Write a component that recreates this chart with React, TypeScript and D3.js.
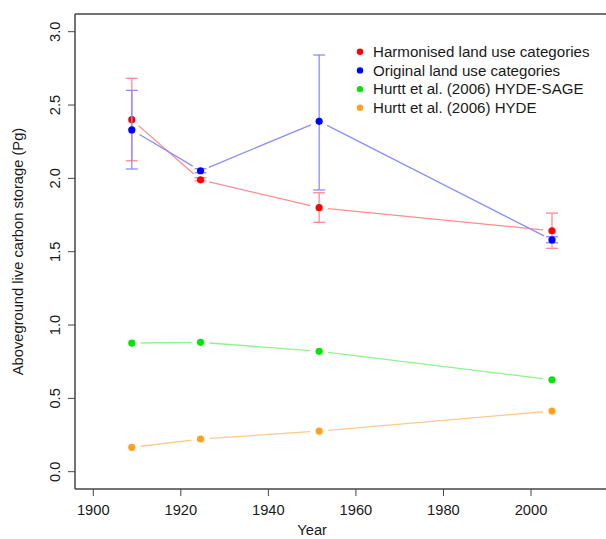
import React from "react";
import * as d3 from "d3";

// data
const years = [1908.8, 1924.5, 1951.6, 2004.8];
const harmonised = [2.4, 1.99, 1.8, 1.643];
const harmonisedLo = [2.12, 1.982, 1.7, 1.523];
const harmonisedHi = [2.682, 2.005, 1.902, 1.763];
const original = [2.33, 2.052, 2.389, 1.58];
const originalLo = [2.064, 2.039, 1.921, 1.561];
const originalHi = [2.6, 2.066, 2.841, 1.602];
const hydeSage = [0.877, 0.882, 0.821, 0.627];
const hyde = [0.166, 0.223, 0.277, 0.414];

const xTicks = [1900, 1920, 1940, 1960, 1980, 2000];
const yTicks = [0, 0.5, 1, 1.5, 2, 2.5, 3];

const legendLabels = [
  "Harmonised land use categories",
  "Original land use categories",
  "Hurtt et al. (2006) HYDE-SAGE",
  "Hurtt et al. (2006) HYDE",
];

const W = 606;
const H = 539;
const box = { left: 75, right: 606, top: 14, bottom: 489 };
const font = "'Liberation Sans', Arial, sans-serif";
const fs = 14.7;

const x = d3.scaleLinear().domain([1900, 2000]).range([93.3, 531]);
const y = d3.scaleLinear().domain([0, 3]).range([471.7, 31.7]);

type Series = {
  values: number[];
  lo?: number[];
  hi?: number[];
  point: string;
  line: string;
};

const series: Series[] = [
  { values: hydeSage, point: "#00e600", line: "#8cf58c" },
  { values: hyde, point: "#ffa01e", line: "#ffc98a" },
  { values: harmonised, lo: harmonisedLo, hi: harmonisedHi, point: "#ff0000", line: "#ff8c8c" },
  { values: original, lo: originalLo, hi: originalHi, point: "#0000ff", line: "#8c8cff" },
];

const legendColors = ["#ff0000", "#0000ff", "#00e600", "#ffa01e"];

// R type="b": segments that stop short of the points
const gapSegments = (vals: number[], gap: number) =>
  vals.slice(0, -1).map((v, i) => {
    const x1 = x(years[i]);
    const y1 = y(v);
    const x2 = x(years[i + 1]);
    const y2 = y(vals[i + 1]);
    const len = Math.hypot(x2 - x1, y2 - y1);
    const ux = (x2 - x1) / len;
    const uy = (y2 - y1) / len;
    return {
      x1: x1 + ux * gap,
      y1: y1 + uy * gap,
      x2: x2 - ux * gap,
      y2: y2 - uy * gap,
    };
  });

const App = () => {
  return (
    <svg
      width={W}
      height={H}
      style={{ position: "absolute", left: 0, top: 0, background: "#fff" }}
      fontFamily={font}
    >
      {/* plot box (right side is cut off in the reference) */}
      <g stroke="#444" strokeWidth={1.5} fill="none">
        <line x1={box.left} x2={box.right} y1={box.top} y2={box.top} />
        <line x1={box.left} x2={box.right} y1={box.bottom} y2={box.bottom} />
        <line x1={box.left} x2={box.left} y1={box.top} y2={box.bottom} />
      </g>

      {/* X axis */}
      {xTicks.map((t) => (
        <g key={t} transform={`translate(${x(t)},${box.bottom})`}>
          <line y2={7} stroke="#444" strokeWidth={1} />
          <text y={26} textAnchor="middle" fontSize={fs} fill="#1a1a1a">
            {t}
          </text>
        </g>
      ))}
      <text x={x(1950)} y={535} textAnchor="middle" fontSize={fs} fill="#1a1a1a">
        Year
      </text>

      {/* Y axis */}
      {yTicks.map((t) => (
        <g key={t} transform={`translate(${box.left},${y(t)})`}>
          <line x2={-7} stroke="#444" strokeWidth={1} />
          <text
            transform="translate(-15,0) rotate(-90)"
            textAnchor="middle"
            fontSize={fs}
            fill="#1a1a1a"
          >
            {t.toFixed(1)}
          </text>
        </g>
      ))}
      <text
        transform={`translate(23,${(box.top + box.bottom) / 2}) rotate(-90)`}
        textAnchor="middle"
        fontSize={fs}
        fill="#1a1a1a"
      >
        Aboveground live carbon storage (Pg)
      </text>

      {/* series */}
      {series.map((s, si) => (
        <g key={si}>
          {gapSegments(s.values, 9).map((seg, i) => (
            <line key={i} {...seg} stroke={s.line} strokeWidth={1.3} />
          ))}
          {s.lo &&
            s.hi &&
            s.values.map((_, i) => {
              const cx = x(years[i]);
              return (
                <g key={i} stroke={s.line} strokeWidth={1.3}>
                  <line x1={cx} x2={cx} y1={y(s.lo![i])} y2={y(s.hi![i])} />
                  <line x1={cx - 6} x2={cx + 6} y1={y(s.lo![i])} y2={y(s.lo![i])} />
                  <line x1={cx - 6} x2={cx + 6} y1={y(s.hi![i])} y2={y(s.hi![i])} />
                </g>
              );
            })}
          {s.values.map((v, i) => (
            <circle key={i} cx={x(years[i])} cy={y(v)} r={3.6} fill={s.point} />
          ))}
        </g>
      ))}

      {/* legend */}
      {legendLabels.map((lab, i) => (
        <g key={lab} transform={`translate(360,${51.7 + i * 18.7})`}>
          <circle r={3.2} fill={legendColors[i]} />
          <text x={13} dy="0.35em" fontSize={15.1} fill="#1a1a1a">
            {lab}
          </text>
        </g>
      ))}
    </svg>
  );
};

export default App;
